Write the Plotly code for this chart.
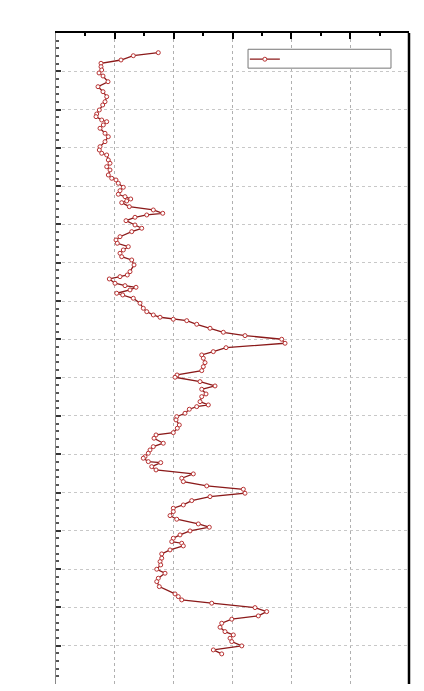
import plotly.graph_objects as go

# value (x), 0..60 scale
values = [17.39, 13.14, 11.05, 7.65, 7.65, 7.77, 7.31, 7.99, 8.84, 7.14,
          7.99, 8.62, 8.33, 7.94, 7.36, 6.92, 6.80, 7.77, 8.62, 8.04,
          7.48, 8.33, 8.89, 8.33, 7.48, 7.36, 7.77, 8.62, 8.89, 9.18,
          8.62, 9.18, 8.89, 9.47, 10.20, 10.59, 11.44, 10.88, 10.59, 11.73,
          12.70, 12.02, 11.17, 12.46, 16.54, 18.14, 15.42, 13.43, 11.90, 13.43,
          14.57, 12.87, 10.88, 10.20, 10.42, 12.29, 11.44, 10.88, 11.17, 12.87,
          13.26, 12.58, 12.12, 10.88, 9.06, 10.03, 11.73, 13.60, 12.58, 10.32,
          11.34, 13.14, 14.28, 14.84, 15.42, 16.54, 17.68, 19.94, 22.22, 23.92,
          26.18, 28.44, 32.13, 38.36, 38.93, 28.90, 26.74, 24.77, 25.04, 25.33,
          25.04, 24.77, 20.57, 20.23, 24.48, 27.03, 24.77, 25.50, 24.77, 24.48,
          25.89, 23.92, 22.66, 21.93, 20.52, 20.40, 20.96, 20.62, 19.94, 17.00,
          16.66, 18.24, 16.54, 15.98, 15.69, 15.13, 14.84, 15.69, 17.80, 16.27,
          17.00, 23.34, 21.37, 21.64, 25.62, 31.84, 32.13, 26.18, 23.07, 21.64,
          19.94, 19.94, 19.38, 20.52, 24.19, 26.06, 22.78, 21.08, 19.94, 19.67,
          21.37, 21.64, 19.38, 17.97, 17.97, 17.68, 17.80, 17.12, 18.53, 17.39,
          17.12, 17.56, 20.23, 20.79, 21.37, 26.47, 33.83, 35.81, 34.39, 29.87,
          28.17, 27.88, 28.73, 30.14, 29.58, 29.87, 31.57, 26.74, 28.17]

# depth (y), 0..17 scale, increasing downward
depths = [0.514, 0.593, 0.705, 0.791, 0.880, 0.966, 1.044, 1.123, 1.272, 1.402,
          1.533, 1.663, 1.794, 1.880, 2.010, 2.115, 2.185, 2.272, 2.316, 2.402,
          2.488, 2.619, 2.708, 2.838, 2.969, 3.055, 3.141, 3.185, 3.316, 3.402,
          3.491, 3.577, 3.708, 3.794, 3.838, 3.924, 4.029, 4.117, 4.211, 4.274,
          4.334, 4.386, 4.431, 4.535, 4.621, 4.708, 4.752, 4.812, 4.901, 5.013,
          5.099, 5.188, 5.319, 5.405, 5.491, 5.580, 5.666, 5.752, 5.841, 5.927,
          6.057, 6.232, 6.319, 6.363, 6.423, 6.535, 6.598, 6.640, 6.710, 6.796,
          6.841, 6.927, 7.057, 7.188, 7.277, 7.363, 7.423, 7.475, 7.512, 7.606,
          7.710, 7.815, 7.903, 7.997, 8.102, 8.217, 8.321, 8.407, 8.493, 8.608,
          8.713, 8.817, 8.930, 8.990, 9.104, 9.217, 9.303, 9.426, 9.496, 9.627,
          9.713, 9.757, 9.825, 9.930, 10.018, 10.104, 10.235, 10.321, 10.436, 10.496,
          10.582, 10.713, 10.802, 10.888, 10.974, 11.063, 11.104, 11.193, 11.219, 11.324,
          11.410, 11.514, 11.627, 11.715, 11.828, 11.914, 12.018, 12.107, 12.211, 12.324,
          12.410, 12.499, 12.603, 12.697, 12.820, 12.906, 13.003, 13.107, 13.193, 13.282,
          13.324, 13.394, 13.499, 13.603, 13.715, 13.804, 13.890, 14.003, 14.107, 14.238,
          14.326, 14.457, 14.648, 14.718, 14.804, 14.890, 15.005, 15.110, 15.222, 15.308,
          15.413, 15.517, 15.632, 15.718, 15.804, 15.893, 16.005, 16.110, 16.214]

series_name = "\u00a0"

fig = go.Figure()
fig.add_trace(go.Scatter(
    x=values, y=depths, mode="lines+markers", name=series_name,
    line=dict(color="#8b1a1a", width=1.3),
    marker=dict(symbol="circle", size=4, color="white",
                line=dict(color="#b83232", width=1)),
    showlegend=True,
))

# legend frame and right-hand axis frame line
fig.add_shape(type="rect", xref="paper", yref="paper",
              x0=0.544, x1=0.949, y0=0.946, y1=0.975,
              line=dict(color="#777777", width=1), fillcolor="white", layer="above")
fig.add_shape(type="line", xref="paper", yref="paper",
              x0=1, x1=1, y0=0, y1=1,
              line=dict(color="black", width=2.5), layer="above")

fig.update_layout(
    width=416, height=683,
    margin=dict(l=48, r=15, t=25, b=7),
    paper_bgcolor="white", plot_bgcolor="white",
    showlegend=True,
    legend=dict(x=0.535, y=0.982, xanchor="left", yanchor="top",
                bgcolor="rgba(0,0,0,0)", borderwidth=0,
                font=dict(family="DejaVu Sans", size=9, color="black"),
                tracegroupgap=0),
    xaxis=dict(side="top", range=[0, 60], dtick=10, showticklabels=False,
               ticks="inside", ticklen=6, tickcolor="black", tickwidth=1.5,
               minor=dict(ticks="inside", ticklen=3, dtick=5, tickcolor="black",
                          showgrid=False),
               showline=True, linecolor="black", linewidth=1.5,
               showgrid=True, gridcolor="#b0b0b0", griddash="dot", gridwidth=1,
               zeroline=False),
    yaxis=dict(range=[17, 0], dtick=1, showticklabels=False,
               ticks="inside", ticklen=5, tickcolor="#333333", tickwidth=1.5,
               minor=dict(ticks="inside", ticklen=3, dtick=0.2, tickcolor="#555555",
                          showgrid=False),
               showline=True, linecolor="#888888", linewidth=1,
               showgrid=True, gridcolor="#c8c8c8", griddash="dot", gridwidth=1,
               zeroline=False),
)

fig.write_html("out.html")
